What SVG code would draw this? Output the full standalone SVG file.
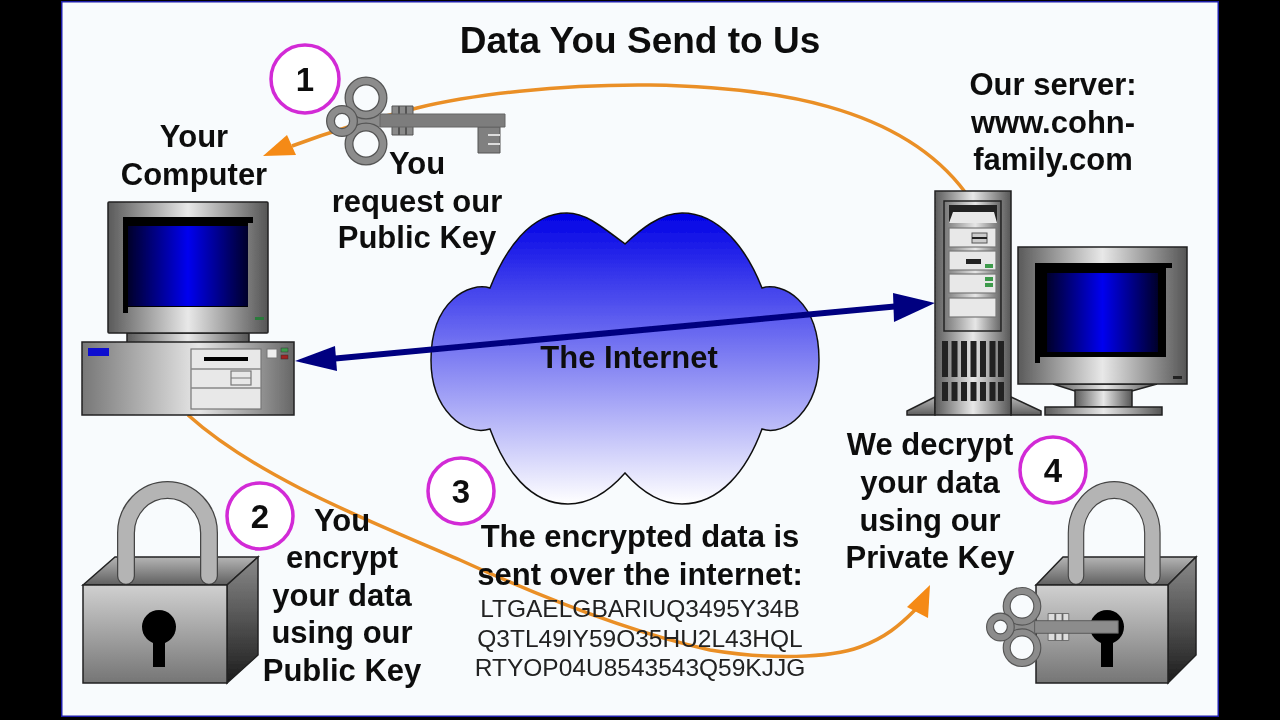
<svg xmlns="http://www.w3.org/2000/svg" width="1280" height="720" viewBox="0 0 1280 720">
<style>
.t{font-family:"Liberation Sans",Arial,sans-serif;font-weight:700;font-size:31px;fill:#111;text-anchor:middle}
.c{font-family:"Liberation Sans",Arial,sans-serif;font-weight:400;font-size:24.500px;fill:#222;text-anchor:middle}
.n{font-family:"Liberation Sans",Arial,sans-serif;font-weight:700;font-size:33px;fill:#111;text-anchor:middle}
.ring{fill:#fff;stroke:#d22bd6;stroke-width:3.5}
.o{fill:none;stroke:#ea8f26;stroke-width:3.5}
.oh{fill:#f58a12}
.nv{fill:#000080}
.edge{stroke:#222;stroke-width:1.5}
.bay{fill:#e8e8e8;stroke:#777;stroke-width:1.2}
.blk{fill:#000}
.keyc{fill:none;stroke:#555;stroke-width:9}
.keyi{fill:none;stroke:#8c8c8c;stroke-width:6.500}
</style>
<defs>
<filter id="soft" x="0" y="0" width="100%" height="100%"><feGaussianBlur stdDeviation=".55"/></filter>
<linearGradient id="bez" x1="0" x2="1" y1="0" y2="0"><stop offset="0" stop-color="#5a5a5a"/><stop offset=".5" stop-color="#e8e8e8"/><stop offset="1" stop-color="#555"/></linearGradient>
<linearGradient id="base" x1="0" x2="1" y1="0" y2="0"><stop offset="0" stop-color="#777"/><stop offset=".55" stop-color="#e6e6e6"/><stop offset="1" stop-color="#666"/></linearGradient>
<linearGradient id="scr" x1="0" x2="1" y1="0" y2="0"><stop offset="0" stop-color="#00002a"/><stop offset=".5" stop-color="#0000f0"/><stop offset="1" stop-color="#00002a"/></linearGradient>
<linearGradient id="cloudg" gradientUnits="userSpaceOnUse" x1="0" x2="0" y1="213" y2="504"><stop offset="0" stop-color="#0000e6"/><stop offset="1" stop-color="#fff"/></linearGradient>
<linearGradient id="front" x1="0" x2="0" y1="0" y2="1"><stop offset="0" stop-color="#d0d0d0"/><stop offset="1" stop-color="#757575"/></linearGradient>
<linearGradient id="top" x1="0" x2="0" y1="0" y2="1"><stop offset="0" stop-color="#b5b5b5"/><stop offset="1" stop-color="#5f5f5f"/></linearGradient>
<linearGradient id="side" x1="0" x2="0" y1="0" y2="1"><stop offset="0" stop-color="#8a8a8a"/><stop offset="1" stop-color="#1c1c1c"/></linearGradient>
<g id="shackle"><path d="M0,86V43A41.500,43 0 0 1 83,43V86" fill="none" stroke="#444" stroke-width="18" stroke-linecap="round"/><path d="M0,86V43A41.500,43 0 0 1 83,43V86" fill="none" stroke="#b4b4b4" stroke-width="15.500" stroke-linecap="round"/></g>
<g id="hole"><circle cx="0" cy="0" r="17" class="blk"/><rect x="-6" y="8" width="12" height="32" class="blk"/></g>
<g id="bow">
<path d="M-14,0L0,-10L14,-6V6L0,10Z" fill="#8c8c8c"/>
<circle cx="0" cy="-23" r="17" class="keyc"/><circle cx="0" cy="-23" r="17" class="keyi"/>
<circle cx="0" cy="23" r="17" class="keyc"/><circle cx="0" cy="23" r="17" class="keyi"/>
<circle cx="-24" cy="0" r="11.500" class="keyc"/><circle cx="-24" cy="0" r="11.500" class="keyi"/>
</g>
</defs>
<rect width="1280" height="720" fill="#000"/>
<g filter="url(#soft)">
<rect x="61" y="1" width="1158" height="716" fill="#f8fbfd" stroke="#1c1ca8" stroke-width="3"/>

<g id="cloud"><path d="M625,244C600,225 585,213 567,213C530,213 505,250 490,288C470,282 431,300 431,360C431,410 465,437 490,429C505,470 530,504 568,504C590,504 610,490 625,473C640,490 660,504 682,504C720,504 747,470 762,429C785,437 819,410 819,360C819,300 782,282 762,288C747,250 720,213 682,213C660,213 640,230 625,244Z" fill="url(#cloudg)" stroke="#111" stroke-width="1.500"/>
<text class="t" x="629" y="368">The Internet</text></g>

<g id="connectors">
<path class="o" d="M965,192C900,105 770,87 650,85C560,84 470,95 417,108C380,117 340,128 292,146"/>
<path class="oh" d="M263,156L287,135L296,155Z"/>
<path class="o" d="M188,415C260,480 380,525 460,560C530,592 620,630 710,650C770,660 830,658 860,647C885,638 900,625 915,610"/>
<path class="oh" d="M930,585L907,607L928,618Z"/>
<path d="M330,359L900,306" stroke="#000080" stroke-width="6" fill="none"/>
<path class="nv" d="M295,361L335,346L337,371Z"/>
<path class="nv" d="M935,303L893,293L894,322Z"/>
</g>

<g id="computer">
<rect x="127" y="333" width="122" height="10" fill="url(#bez)" class="edge"/>
<rect x="108" y="202" width="160" height="131" rx="1" fill="url(#bez)" class="edge"/>
<path class="blk" d="M123,217H253V223H248V307H128V313H123Z"/>
<rect x="128" y="226" width="120" height="80" fill="url(#scr)"/>
<rect x="255" y="317" width="9" height="3" fill="#2a7a3a"/>
<rect x="82" y="342" width="212" height="73" fill="url(#base)" class="edge"/>
<rect x="88" y="348" width="21" height="8" fill="#0a0ad0"/>
<rect x="191" y="349" width="70" height="60" class="bay"/>
<rect x="204" y="357" width="44" height="4" class="blk"/>
<path d="M191,369H261M191,388H261" stroke="#888" stroke-width="1.500"/>
<rect x="231" y="371" width="20" height="14" class="bay"/><path d="M231,378H251" stroke="#777"/>
<rect x="267" y="349" width="10" height="9" fill="#eee" stroke="#777"/>
<rect x="281" y="348" width="7" height="4" fill="#3c9a4c" stroke="#333" stroke-width=".5"/>
<rect x="281" y="355" width="7" height="4" fill="#a02020" stroke="#333" stroke-width=".5"/>
<text class="t" x="194" y="147">Your</text><text class="t" x="194" y="185">Computer</text>
</g>

<g id="server">
<path d="M935,397L907,411V415H935ZM1011,397L1041,411V415H1011Z" fill="url(#top)" class="edge"/>
<rect x="935" y="191" width="76" height="224" fill="url(#bez)" class="edge"/>
<rect x="944" y="201" width="57" height="130" fill="url(#base)" stroke="#222" stroke-width="1.500"/>
<path d="M949,205H997V223H949Z" fill="#222"/><path d="M953,212H994L997,223H949Z" fill="#e8e8e8"/>
<rect x="949" y="228" width="47" height="19" class="bay"/>
<rect x="949" y="251" width="47" height="19" class="bay"/>
<rect x="949" y="274" width="47" height="19" class="bay"/>
<rect x="949" y="298" width="47" height="19" class="bay"/>
<rect x="972" y="233" width="15" height="10" fill="#ccc" stroke="#555"/><path d="M972,238H987" stroke="#222" stroke-width="2"/>
<rect x="966" y="259" width="15" height="5" fill="#222"/>
<rect x="985" y="264" width="8" height="4" fill="#3c9a4c"/>
<rect x="985" y="277" width="8" height="4" fill="#3c9a4c"/><rect x="985" y="283" width="8" height="4" fill="#3c9a4c"/>
<path d="M945,341V377M954.500,341V377M964,341V377M973.500,341V377M983,341V377M992.500,341V377M1001,341V377M945,382V401M954.500,382V401M964,382V401M973.500,382V401M983,382V401M992.500,382V401M1001,382V401" stroke="#222" stroke-width="6" fill="none"/>
<text class="t" x="1053" y="95">Our server:</text><text class="t" x="1053" y="133">www.cohn-</text><text class="t" x="1053" y="170">family.com</text>
</g>

<g id="server-monitor">
<path d="M1053,384H1157L1132,391H1075Z" fill="url(#bez)" class="edge"/>
<rect x="1075" y="390" width="57" height="17" fill="url(#bez)" class="edge"/>
<rect x="1045" y="407" width="117" height="8" fill="url(#bez)" class="edge"/>
<rect x="1018" y="247" width="169" height="137" fill="url(#bez)" class="edge"/>
<path class="blk" d="M1035,263H1172V268H1166V357H1040V363H1035Z"/>
<rect x="1047" y="273" width="111" height="79" fill="url(#scr)"/>
<rect x="1173" y="376" width="9" height="3" fill="#222"/>
</g>

<g id="key-public">
<g transform="translate(366,121)"><use href="#bow"/>
<path d="M26,-15H47V14H26Z" fill="#8a8a8a" stroke="#555"/><path d="M33,-15V14M40,-15V14" stroke="#555" stroke-width="2"/>
<path d="M112,6H134V32H112Z" fill="#808080" stroke="#555"/>
<path d="M122,14H134M122,23H134" stroke="#ddd" stroke-width="2"/>
<path d="M14,-7H139V6H14Z" fill="#7d7d7d" stroke="#666"/>
</g>
<text class="t" x="417" y="174">You</text><text class="t" x="417" y="212">request our</text><text class="t" x="417" y="248">Public Key</text>
</g>

<g id="lock-public">
<path d="M83,585L115,557H258L227,585Z" fill="url(#top)" class="edge"/>
<use href="#shackle" x="126" y="490"/>
<path d="M227,585L258,557V655L227,683Z" fill="url(#side)" class="edge"/>
<rect x="83" y="585" width="144" height="98" fill="url(#front)" class="edge"/>
<use href="#hole" x="159" y="627"/>
<text class="t" x="342" y="531">You</text><text class="t" x="342" y="568">encrypt</text><text class="t" x="342" y="606">your data</text><text class="t" x="342" y="643">using our</text><text class="t" x="342" y="681">Public Key</text>
</g>

<g id="lock-private">
<path d="M1036,585L1063,557H1196L1168,585Z" fill="url(#top)" class="edge"/>
<use href="#shackle" transform="translate(1076,490) scale(.92,1)"/>
<path d="M1168,585L1196,557V655L1168,683Z" fill="url(#side)" class="edge"/>
<rect x="1036" y="585" width="132" height="98" fill="url(#front)" class="edge"/>
<use href="#hole" x="1107" y="627"/>
<g transform="translate(1022,627) scale(.9)"><use href="#bow"/>
<path d="M29,-15H52V15H29Z" fill="#ddd" stroke="#666"/><path d="M37,-15V15M45,-15V15" stroke="#666" stroke-width="2"/>
<path d="M14,-7H107V7H14Z" fill="#8c8c8c" stroke="#555"/></g>
<text class="t" x="930" y="455">We decrypt</text><text class="t" x="930" y="493">your data</text><text class="t" x="930" y="531">using our</text><text class="t" x="930" y="568">Private Key</text>
</g>

<g id="step-1"><circle class="ring" cx="305" cy="79" r="34"/><text class="n" x="305" y="91">1</text></g>
<g id="step-2"><circle class="ring" cx="260" cy="516" r="33"/><text class="n" x="260" y="528">2</text></g>
<g id="step-3"><circle class="ring" cx="461" cy="491" r="33"/><text class="n" x="461" y="503">3</text></g>
<g id="step-4"><circle class="ring" cx="1053" cy="470" r="33"/><text class="n" x="1053" y="482">4</text></g>

<g id="labels">
<text class="t" x="640" y="53" style="font-size:37px">Data You Send to Us</text>
<text class="t" x="640" y="547">The encrypted data is</text>
<text class="t" x="640" y="585">sent over the internet:</text>
<text class="c" x="640" y="617">LTGAELGBARIUQ3495Y34B</text>
<text class="c" x="640" y="647">Q3TL49IY59O35HU2L43HQL</text>
<text class="c" x="640" y="676">RTYOP04U8543543Q59KJJG</text>
</g>
</g>
</svg>
